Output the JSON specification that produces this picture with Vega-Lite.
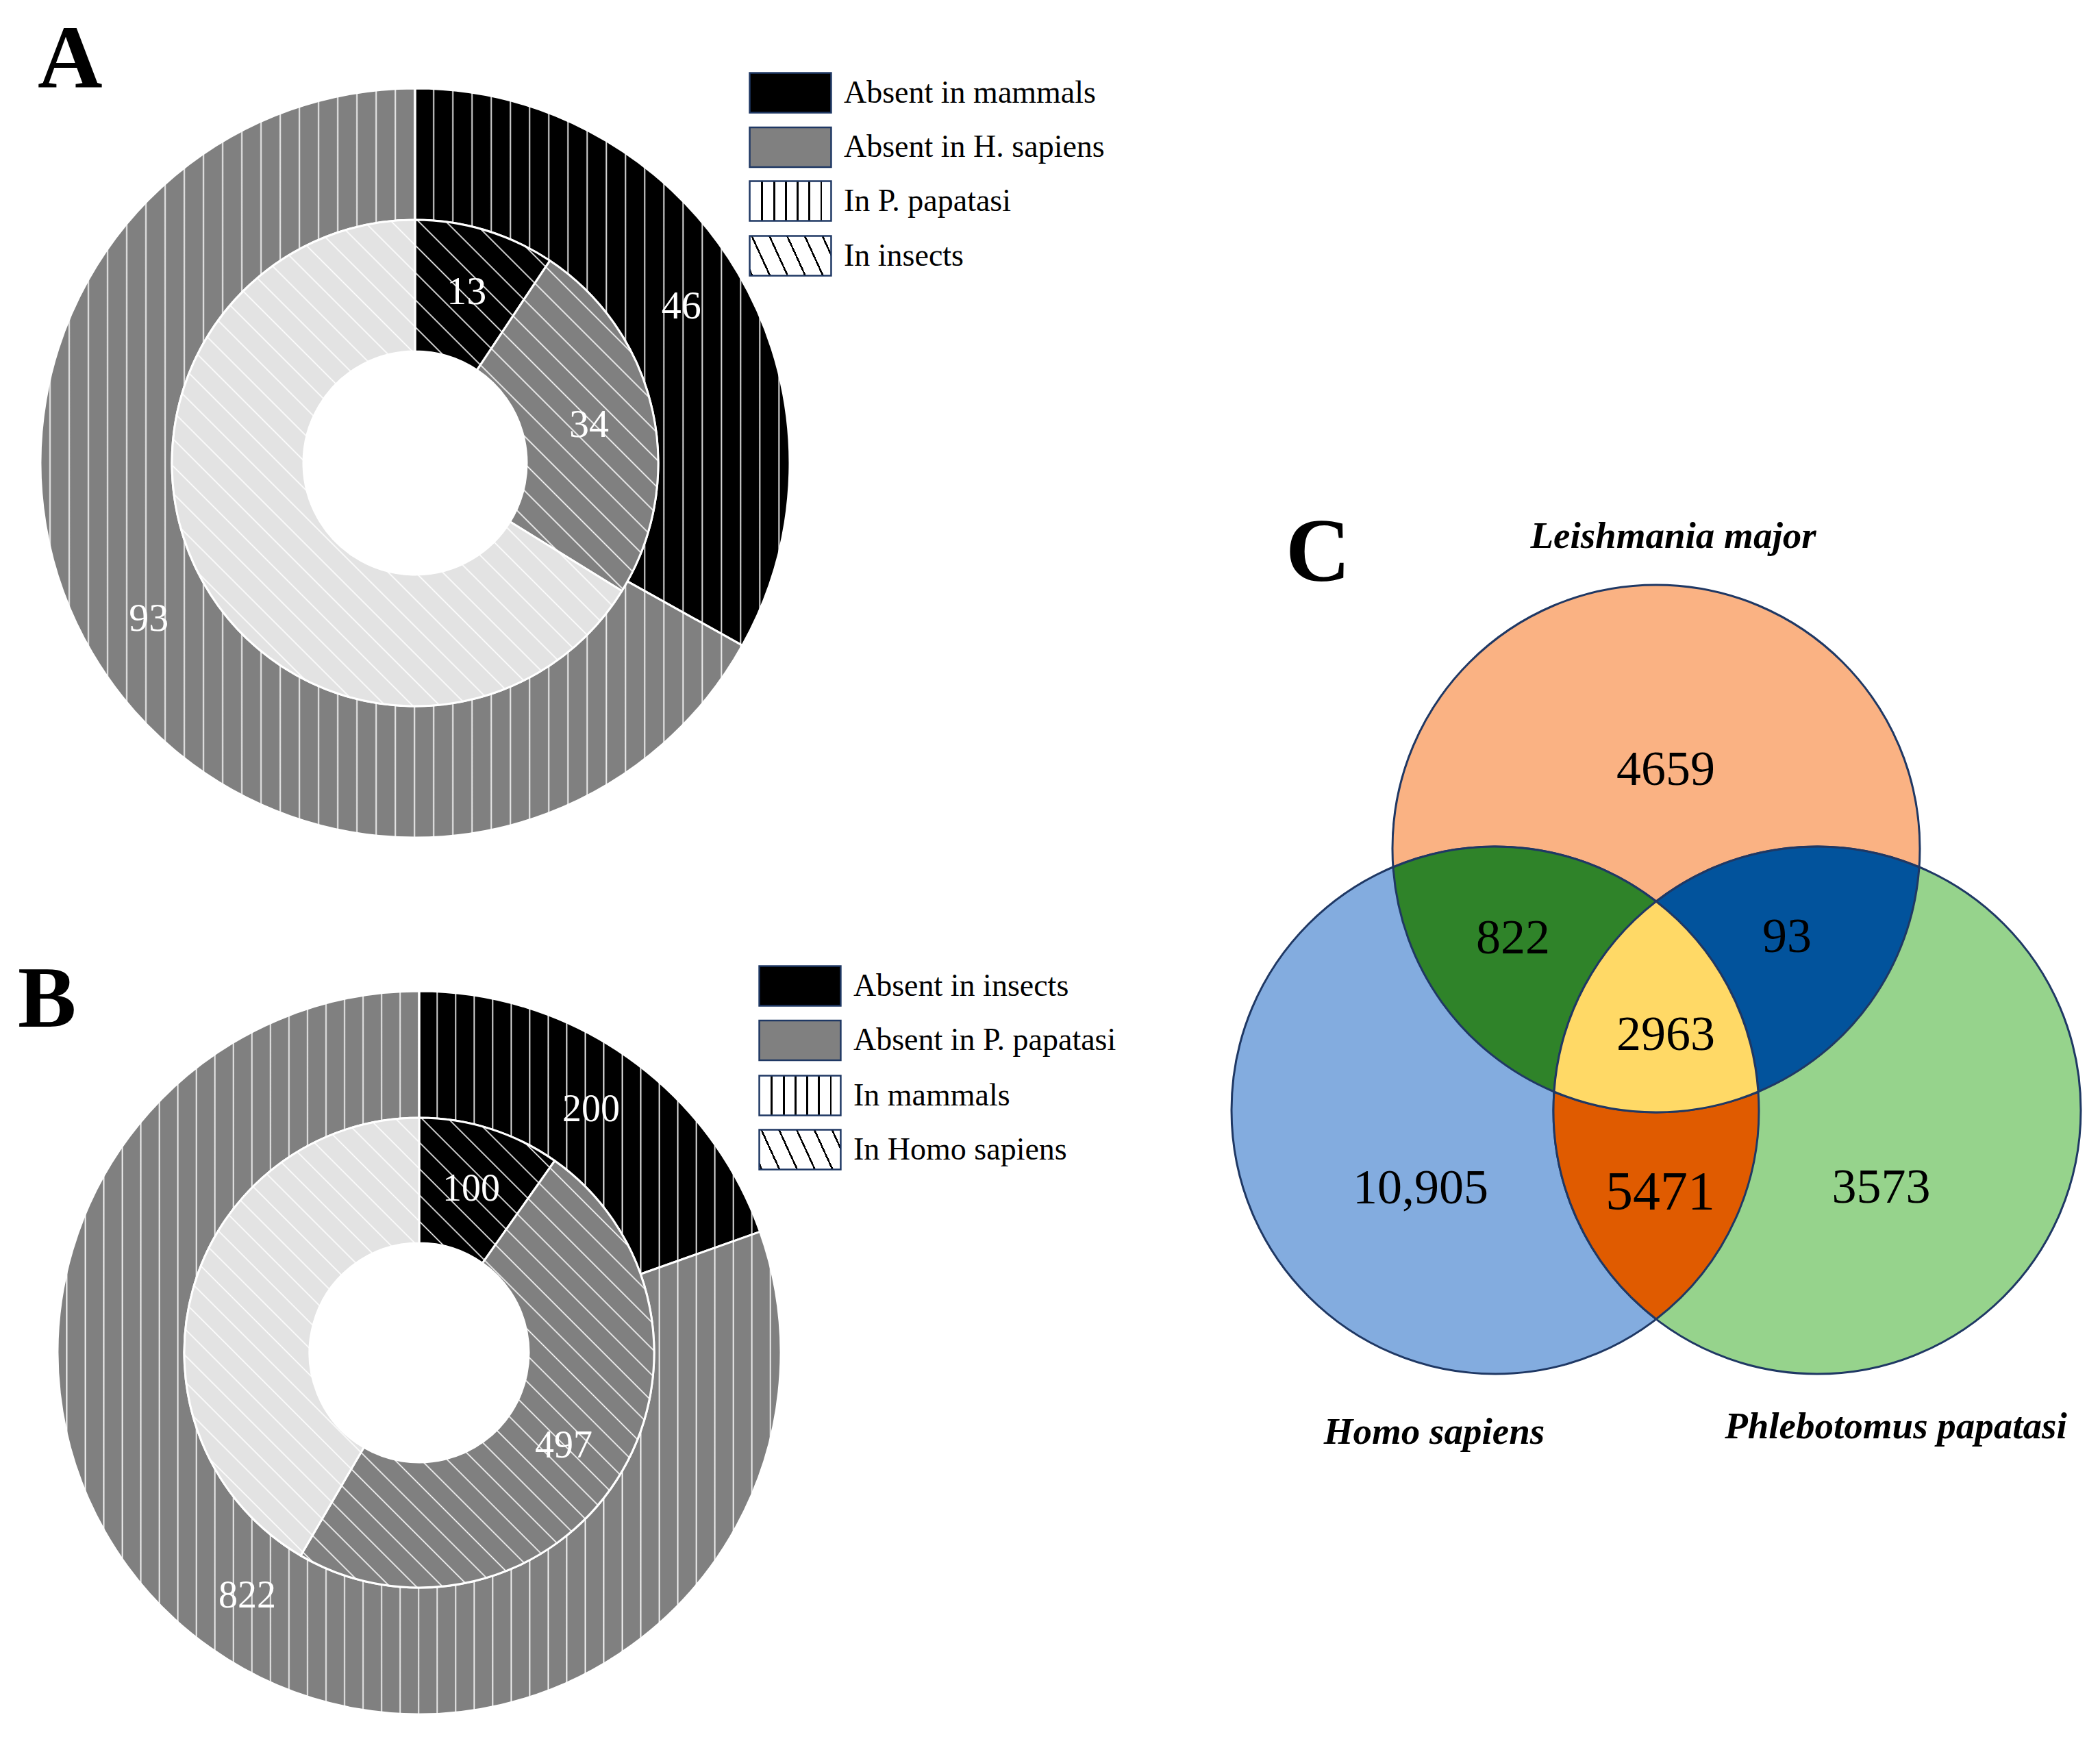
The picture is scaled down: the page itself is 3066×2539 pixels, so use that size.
{
"$schema":"https://vega.github.io/schema/vega-lite/v6.json",
"padding":0,
"background":"#ffffff",
"config":{"view":{"stroke":null},"font":"Liberation Serif",
"legend":{"orient":"none","direction":"vertical","title":null,"symbolType":"M -2.05 -1 L 2.05 -1 L 2.05 1 L -2.05 1 Z","symbolSize":3364,"symbolOpacity":1,"symbolStrokeColor":"#1F3864","symbolStrokeWidth":2.5,"labelFont":"Liberation Serif","labelFontSize":46,"labelColor":"#000000","labelOffset":47.5,"rowPadding":10.5,"labelLimit":1000}},
"datasets":{
"panelA":[
{"ring":"In P. papatasi","status":"Absent in mammals","n":46},
{"ring":"In P. papatasi","status":"Absent in H. sapiens","n":93},
{"ring":"In insects","status":"Absent in mammals","n":13},
{"ring":"In insects","status":"Absent in H. sapiens","n":34},
{"ring":"In insects","status":"Other","n":92}],
"panelB":[
{"ring":"In mammals","status":"Absent in insects","n":200},
{"ring":"In mammals","status":"Absent in P. papatasi","n":822},
{"ring":"In Homo sapiens","status":"Absent in insects","n":100},
{"ring":"In Homo sapiens","status":"Absent in P. papatasi","n":497},
{"ring":"In Homo sapiens","status":"Other","n":425}],
"venn":[
{"region":"L","label":"4659","count":4659,"u":0.6961,"w":1.087},
{"region":"H","label":"10,905","count":10905,"u":-0.2338,"w":2.674},
{"region":"P","label":"3573","count":3573,"u":1.513,"w":2.6714},
{"region":"LH","label":"822","count":822,"u":0.1169,"w":1.726},
{"region":"LP","label":"93","count":93,"u":1.1558,"w":1.7221},
{"region":"HP","label":"5471","count":5471,"u":0.6753,"w":2.6922},
{"region":"LHP","label":"2963","count":2963,"u":0.6961,"w":2.0922}],
"vennSets":[
{"set":"Leishmania major","u":0.7247,"w":0.2455},
{"set":"Homo sapiens","u":-0.1818,"w":3.6429},
{"set":"Phlebotomus papatasi","u":1.5688,"w":3.6221}]
},
"columns":2,
"spacing":{"row":0,"column":39},
"bounds":"flush",
"align":"each",
"resolve":{"scale":{"theta":"independent","fill":"independent","shape":"independent","color":"independent","stroke":"independent"},"legend":{"fill":"independent","shape":"independent","color":"independent","stroke":"independent"}},
"concat":[
{
"width":1212,"height":1352,
"title":{"text":"A","anchor":"start","frame":"group","offset":0,"baseline":"alphabetic","dx":55,"dy":259,"font":"Liberation Serif","fontSize":131,"fontWeight":"bold","color":"#000000"},
"data":{"name":"panelA"},
"transform":[{"window":[{"op":"row_number","as":"i"}]}],
"resolve":{"scale":{"stroke":"independent"},"legend":{"stroke":"independent"}},
"layer":[
{"transform":[{"filter":"datum.ring === 'In P. papatasi'"}],
"mark":{"type":"arc","radius":547,"radius2":355,"stroke":"#ffffff","strokeWidth":3},
"encoding":{"theta":{"field":"n","type":"quantitative","stack":true},"order":{"field":"i","type":"quantitative"},
"fill":{"field":"status","type":"nominal","legend":null,
"scale":{"domain":["Absent in mammals","Absent in H. sapiens","Other"],"range":["#000000","#808080","#e3e3e3"]}}}},
{"transform":[{"filter":"datum.ring === 'In P. papatasi'"}],
"mark":{"type":"arc","radius":547,"radius2":355,
"fill":{"gradient":"linear","x1":0,"y1":0,"x2":1,"y2":0,"stops":[{"offset":0.0112,"color":"rgba(255,255,255,0)"},{"offset":0.0128,"color":"#ffffff"},{"offset":0.0144,"color":"rgba(255,255,255,0)"},{"offset":0.0368,"color":"rgba(255,255,255,0)"},{"offset":0.0384,"color":"#ffffff"},{"offset":0.04,"color":"rgba(255,255,255,0)"},{"offset":0.0624,"color":"rgba(255,255,255,0)"},{"offset":0.064,"color":"#ffffff"},{"offset":0.0656,"color":"rgba(255,255,255,0)"},{"offset":0.088,"color":"rgba(255,255,255,0)"},{"offset":0.0896,"color":"#ffffff"},{"offset":0.0912,"color":"rgba(255,255,255,0)"},{"offset":0.1136,"color":"rgba(255,255,255,0)"},{"offset":0.1152,"color":"#ffffff"},{"offset":0.1168,"color":"rgba(255,255,255,0)"},{"offset":0.1392,"color":"rgba(255,255,255,0)"},{"offset":0.1408,"color":"#ffffff"},{"offset":0.1424,"color":"rgba(255,255,255,0)"},{"offset":0.1648,"color":"rgba(255,255,255,0)"},{"offset":0.1664,"color":"#ffffff"},{"offset":0.168,"color":"rgba(255,255,255,0)"},{"offset":0.1904,"color":"rgba(255,255,255,0)"},{"offset":0.192,"color":"#ffffff"},{"offset":0.1936,"color":"rgba(255,255,255,0)"},{"offset":0.216,"color":"rgba(255,255,255,0)"},{"offset":0.2176,"color":"#ffffff"},{"offset":0.2192,"color":"rgba(255,255,255,0)"},{"offset":0.2416,"color":"rgba(255,255,255,0)"},{"offset":0.2432,"color":"#ffffff"},{"offset":0.2448,"color":"rgba(255,255,255,0)"},{"offset":0.2672,"color":"rgba(255,255,255,0)"},{"offset":0.2688,"color":"#ffffff"},{"offset":0.2704,"color":"rgba(255,255,255,0)"},{"offset":0.2928,"color":"rgba(255,255,255,0)"},{"offset":0.2944,"color":"#ffffff"},{"offset":0.296,"color":"rgba(255,255,255,0)"},{"offset":0.3184,"color":"rgba(255,255,255,0)"},{"offset":0.32,"color":"#ffffff"},{"offset":0.3216,"color":"rgba(255,255,255,0)"},{"offset":0.344,"color":"rgba(255,255,255,0)"},{"offset":0.3456,"color":"#ffffff"},{"offset":0.3472,"color":"rgba(255,255,255,0)"},{"offset":0.3696,"color":"rgba(255,255,255,0)"},{"offset":0.3712,"color":"#ffffff"},{"offset":0.3728,"color":"rgba(255,255,255,0)"},{"offset":0.3952,"color":"rgba(255,255,255,0)"},{"offset":0.3968,"color":"#ffffff"},{"offset":0.3984,"color":"rgba(255,255,255,0)"},{"offset":0.4208,"color":"rgba(255,255,255,0)"},{"offset":0.4224,"color":"#ffffff"},{"offset":0.424,"color":"rgba(255,255,255,0)"},{"offset":0.4464,"color":"rgba(255,255,255,0)"},{"offset":0.448,"color":"#ffffff"},{"offset":0.4496,"color":"rgba(255,255,255,0)"},{"offset":0.472,"color":"rgba(255,255,255,0)"},{"offset":0.4736,"color":"#ffffff"},{"offset":0.4752,"color":"rgba(255,255,255,0)"},{"offset":0.4976,"color":"rgba(255,255,255,0)"},{"offset":0.4992,"color":"#ffffff"},{"offset":0.5008,"color":"rgba(255,255,255,0)"},{"offset":0.5232,"color":"rgba(255,255,255,0)"},{"offset":0.5248,"color":"#ffffff"},{"offset":0.5264,"color":"rgba(255,255,255,0)"},{"offset":0.5488,"color":"rgba(255,255,255,0)"},{"offset":0.5504,"color":"#ffffff"},{"offset":0.552,"color":"rgba(255,255,255,0)"},{"offset":0.5744,"color":"rgba(255,255,255,0)"},{"offset":0.576,"color":"#ffffff"},{"offset":0.5776,"color":"rgba(255,255,255,0)"},{"offset":0.6,"color":"rgba(255,255,255,0)"},{"offset":0.6016,"color":"#ffffff"},{"offset":0.6032,"color":"rgba(255,255,255,0)"},{"offset":0.6256,"color":"rgba(255,255,255,0)"},{"offset":0.6272,"color":"#ffffff"},{"offset":0.6288,"color":"rgba(255,255,255,0)"},{"offset":0.6512,"color":"rgba(255,255,255,0)"},{"offset":0.6528,"color":"#ffffff"},{"offset":0.6544,"color":"rgba(255,255,255,0)"},{"offset":0.6768,"color":"rgba(255,255,255,0)"},{"offset":0.6784,"color":"#ffffff"},{"offset":0.68,"color":"rgba(255,255,255,0)"},{"offset":0.7024,"color":"rgba(255,255,255,0)"},{"offset":0.704,"color":"#ffffff"},{"offset":0.7056,"color":"rgba(255,255,255,0)"},{"offset":0.728,"color":"rgba(255,255,255,0)"},{"offset":0.7296,"color":"#ffffff"},{"offset":0.7312,"color":"rgba(255,255,255,0)"},{"offset":0.7536,"color":"rgba(255,255,255,0)"},{"offset":0.7552,"color":"#ffffff"},{"offset":0.7568,"color":"rgba(255,255,255,0)"},{"offset":0.7792,"color":"rgba(255,255,255,0)"},{"offset":0.7808,"color":"#ffffff"},{"offset":0.7824,"color":"rgba(255,255,255,0)"},{"offset":0.8048,"color":"rgba(255,255,255,0)"},{"offset":0.8064,"color":"#ffffff"},{"offset":0.808,"color":"rgba(255,255,255,0)"},{"offset":0.8304,"color":"rgba(255,255,255,0)"},{"offset":0.832,"color":"#ffffff"},{"offset":0.8336,"color":"rgba(255,255,255,0)"},{"offset":0.856,"color":"rgba(255,255,255,0)"},{"offset":0.8576,"color":"#ffffff"},{"offset":0.8592,"color":"rgba(255,255,255,0)"},{"offset":0.8816,"color":"rgba(255,255,255,0)"},{"offset":0.8832,"color":"#ffffff"},{"offset":0.8848,"color":"rgba(255,255,255,0)"},{"offset":0.9072,"color":"rgba(255,255,255,0)"},{"offset":0.9088,"color":"#ffffff"},{"offset":0.9104,"color":"rgba(255,255,255,0)"},{"offset":0.9328,"color":"rgba(255,255,255,0)"},{"offset":0.9344,"color":"#ffffff"},{"offset":0.936,"color":"rgba(255,255,255,0)"},{"offset":0.9584,"color":"rgba(255,255,255,0)"},{"offset":0.96,"color":"#ffffff"},{"offset":0.9616,"color":"rgba(255,255,255,0)"},{"offset":0.984,"color":"rgba(255,255,255,0)"},{"offset":0.9856,"color":"#ffffff"},{"offset":0.9872,"color":"rgba(255,255,255,0)"}]}},
"encoding":{"theta":{"aggregate":"sum","field":"n","type":"quantitative","stack":true}}},
{"transform":[{"filter":"datum.ring === 'In insects'"}],
"mark":{"type":"arc","radius":355,"radius2":163,"stroke":"#ffffff","strokeWidth":3},
"encoding":{"theta":{"field":"n","type":"quantitative","stack":true},"order":{"field":"i","type":"quantitative"},
"fill":{"field":"status","type":"nominal","legend":null,
"scale":{"domain":["Absent in mammals","Absent in H. sapiens","Other"],"range":["#000000","#808080","#e3e3e3"]}}}},
{"transform":[{"filter":"datum.ring === 'In insects'"}],
"mark":{"type":"arc","radius":355,"radius2":163,
"fill":{"gradient":"linear","x1":0,"y1":1,"x2":1,"y2":0,"stops":[{"offset":0.1344,"color":"rgba(255,255,255,0)"},{"offset":0.136,"color":"#ffffff"},{"offset":0.1376,"color":"rgba(255,255,255,0)"},{"offset":0.1624,"color":"rgba(255,255,255,0)"},{"offset":0.164,"color":"#ffffff"},{"offset":0.1656,"color":"rgba(255,255,255,0)"},{"offset":0.1904,"color":"rgba(255,255,255,0)"},{"offset":0.192,"color":"#ffffff"},{"offset":0.1936,"color":"rgba(255,255,255,0)"},{"offset":0.2184,"color":"rgba(255,255,255,0)"},{"offset":0.22,"color":"#ffffff"},{"offset":0.2216,"color":"rgba(255,255,255,0)"},{"offset":0.2464,"color":"rgba(255,255,255,0)"},{"offset":0.248,"color":"#ffffff"},{"offset":0.2496,"color":"rgba(255,255,255,0)"},{"offset":0.2744,"color":"rgba(255,255,255,0)"},{"offset":0.276,"color":"#ffffff"},{"offset":0.2776,"color":"rgba(255,255,255,0)"},{"offset":0.3024,"color":"rgba(255,255,255,0)"},{"offset":0.304,"color":"#ffffff"},{"offset":0.3056,"color":"rgba(255,255,255,0)"},{"offset":0.3304,"color":"rgba(255,255,255,0)"},{"offset":0.332,"color":"#ffffff"},{"offset":0.3336,"color":"rgba(255,255,255,0)"},{"offset":0.3584,"color":"rgba(255,255,255,0)"},{"offset":0.36,"color":"#ffffff"},{"offset":0.3616,"color":"rgba(255,255,255,0)"},{"offset":0.3864,"color":"rgba(255,255,255,0)"},{"offset":0.388,"color":"#ffffff"},{"offset":0.3896,"color":"rgba(255,255,255,0)"},{"offset":0.4144,"color":"rgba(255,255,255,0)"},{"offset":0.416,"color":"#ffffff"},{"offset":0.4176,"color":"rgba(255,255,255,0)"},{"offset":0.4424,"color":"rgba(255,255,255,0)"},{"offset":0.444,"color":"#ffffff"},{"offset":0.4456,"color":"rgba(255,255,255,0)"},{"offset":0.4704,"color":"rgba(255,255,255,0)"},{"offset":0.472,"color":"#ffffff"},{"offset":0.4736,"color":"rgba(255,255,255,0)"},{"offset":0.4984,"color":"rgba(255,255,255,0)"},{"offset":0.5,"color":"#ffffff"},{"offset":0.5016,"color":"rgba(255,255,255,0)"},{"offset":0.5264,"color":"rgba(255,255,255,0)"},{"offset":0.528,"color":"#ffffff"},{"offset":0.5296,"color":"rgba(255,255,255,0)"},{"offset":0.5544,"color":"rgba(255,255,255,0)"},{"offset":0.556,"color":"#ffffff"},{"offset":0.5576,"color":"rgba(255,255,255,0)"},{"offset":0.5824,"color":"rgba(255,255,255,0)"},{"offset":0.584,"color":"#ffffff"},{"offset":0.5856,"color":"rgba(255,255,255,0)"},{"offset":0.6104,"color":"rgba(255,255,255,0)"},{"offset":0.612,"color":"#ffffff"},{"offset":0.6136,"color":"rgba(255,255,255,0)"},{"offset":0.6384,"color":"rgba(255,255,255,0)"},{"offset":0.64,"color":"#ffffff"},{"offset":0.6416,"color":"rgba(255,255,255,0)"},{"offset":0.6664,"color":"rgba(255,255,255,0)"},{"offset":0.668,"color":"#ffffff"},{"offset":0.6696,"color":"rgba(255,255,255,0)"},{"offset":0.6944,"color":"rgba(255,255,255,0)"},{"offset":0.696,"color":"#ffffff"},{"offset":0.6976,"color":"rgba(255,255,255,0)"},{"offset":0.7224,"color":"rgba(255,255,255,0)"},{"offset":0.724,"color":"#ffffff"},{"offset":0.7256,"color":"rgba(255,255,255,0)"},{"offset":0.7504,"color":"rgba(255,255,255,0)"},{"offset":0.752,"color":"#ffffff"},{"offset":0.7536,"color":"rgba(255,255,255,0)"},{"offset":0.7784,"color":"rgba(255,255,255,0)"},{"offset":0.78,"color":"#ffffff"},{"offset":0.7816,"color":"rgba(255,255,255,0)"},{"offset":0.8064,"color":"rgba(255,255,255,0)"},{"offset":0.808,"color":"#ffffff"},{"offset":0.8096,"color":"rgba(255,255,255,0)"},{"offset":0.8344,"color":"rgba(255,255,255,0)"},{"offset":0.836,"color":"#ffffff"},{"offset":0.8376,"color":"rgba(255,255,255,0)"},{"offset":0.8624,"color":"rgba(255,255,255,0)"},{"offset":0.864,"color":"#ffffff"},{"offset":0.8656,"color":"rgba(255,255,255,0)"}]}},
"encoding":{"theta":{"aggregate":"sum","field":"n","type":"quantitative","stack":true}}},
{"transform":[{"filter":"datum.ring === 'In P. papatasi'"}],
"mark":{"type":"text","radius":451,"font":"Liberation Serif","fontSize":58,"fill":"#ffffff","align":"center","baseline":"middle"},
"encoding":{"theta":{"field":"n","type":"quantitative","stack":true},"order":{"field":"i","type":"quantitative"},
"text":{"field":"n","type":"quantitative","condition":{"test":"datum.status === 'Other'","value":""}}}},
{"transform":[{"filter":"datum.ring === 'In insects'"}],
"mark":{"type":"text","radius":260,"font":"Liberation Serif","fontSize":58,"fill":"#ffffff","align":"center","baseline":"middle"},
"encoding":{"theta":{"field":"n","type":"quantitative","stack":true},"order":{"field":"i","type":"quantitative"},
"text":{"field":"n","type":"quantitative","condition":{"test":"datum.status === 'Other'","value":""}}}},
{"transform":[{"filter":"datum.n < 0"}],
"mark":{"type":"point","filled":true,"stroke":"#1F3864","strokeWidth":2.5},
"encoding":{"color":{"field":"status","type":"nominal","scale":{"domain":["Absent in mammals","Absent in H. sapiens"],"range":["#000000","#808080"]},
"legend":{"legendX":1123.5,"legendY":105}}}},
{"transform":[{"filter":"datum.n < 0"}],
"mark":{"type":"point","filled":true,"strokeWidth":2.5,
"fill":{"gradient":"linear","x1":0,"y1":0,"x2":1,"y2":0,"stops":[{"offset":0,"color":"#ffffff"},{"offset":0.142,"color":"#ffffff"},{"offset":0.142,"color":"#000000"},{"offset":0.166,"color":"#000000"},{"offset":0.166,"color":"#ffffff"},{"offset":0.287,"color":"#ffffff"},{"offset":0.287,"color":"#000000"},{"offset":0.311,"color":"#000000"},{"offset":0.311,"color":"#ffffff"},{"offset":0.432,"color":"#ffffff"},{"offset":0.432,"color":"#000000"},{"offset":0.456,"color":"#000000"},{"offset":0.456,"color":"#ffffff"},{"offset":0.576,"color":"#ffffff"},{"offset":0.576,"color":"#000000"},{"offset":0.6,"color":"#000000"},{"offset":0.6,"color":"#ffffff"},{"offset":0.721,"color":"#ffffff"},{"offset":0.721,"color":"#000000"},{"offset":0.745,"color":"#000000"},{"offset":0.745,"color":"#ffffff"},{"offset":0.866,"color":"#ffffff"},{"offset":0.866,"color":"#000000"},{"offset":0.89,"color":"#000000"},{"offset":0.89,"color":"#ffffff"},{"offset":1,"color":"#ffffff"}]}},
"encoding":{"stroke":{"field":"ring","type":"nominal","scale":{"domain":["In P. papatasi"],"range":["#1F3864"]},
"legend":{"legendX":1123.5,"legendY":263}}}},
{"transform":[{"filter":"datum.n < 0"}],
"mark":{"type":"point","filled":true,"strokeWidth":2.5,
"fill":{"gradient":"linear","x1":-0.2,"y1":0.6568,"x2":1.2,"y2":0.3432,"stops":[{"offset":0,"color":"#ffffff"},{"offset":0.0975,"color":"#ffffff"},{"offset":0.0975,"color":"#000000"},{"offset":0.1135,"color":"#000000"},{"offset":0.1135,"color":"#ffffff"},{"offset":0.2451,"color":"#ffffff"},{"offset":0.2451,"color":"#000000"},{"offset":0.2611,"color":"#000000"},{"offset":0.2611,"color":"#ffffff"},{"offset":0.3927,"color":"#ffffff"},{"offset":0.3927,"color":"#000000"},{"offset":0.4087,"color":"#000000"},{"offset":0.4087,"color":"#ffffff"},{"offset":0.5403,"color":"#ffffff"},{"offset":0.5403,"color":"#000000"},{"offset":0.5563,"color":"#000000"},{"offset":0.5563,"color":"#ffffff"},{"offset":0.6879,"color":"#ffffff"},{"offset":0.6879,"color":"#000000"},{"offset":0.7039,"color":"#000000"},{"offset":0.7039,"color":"#ffffff"},{"offset":0.8355,"color":"#ffffff"},{"offset":0.8355,"color":"#000000"},{"offset":0.8515,"color":"#000000"},{"offset":0.8515,"color":"#ffffff"},{"offset":1,"color":"#ffffff"}]}},
"encoding":{"stroke":{"field":"ring","type":"nominal","scale":{"domain":["In insects"],"range":["#1F3864"]},
"legend":{"legendX":1123.5,"legendY":343}}}}
]
},
{
"width":1802,"height":1411,
"title":{"text":"C","anchor":"start","frame":"group","offset":0,"baseline":"alphabetic","dx":614,"dy":979,"font":"Liberation Serif","fontSize":131,"fontWeight":"bold","color":"#000000"},
"layer":[
{"data":{"name":"venn"},
"mark":{"type":"point","filled":true,"size":592900,"opacity":1,"stroke":"#1F3864","strokeWidth":3},
"encoding":{
"shape":{"field":"region","type":"nominal","legend":null,"scale":{"domain":["L","H","P","LH","LP","HP","LHP"],
"range":["M -0.3403 1.3857 A 1 1 0 1 1 1.6597 1.3857 A 1 1 0 1 1 -0.3403 1.3857 Z",
"M -0.9506 2.3779 A 1 1 0 1 1 1.0494 2.3779 A 1 1 0 1 1 -0.9506 2.3779 Z",
"M 0.2701 2.3779 A 1 1 0 1 1 2.2701 2.3779 A 1 1 0 1 1 0.2701 2.3779 Z",
"M -0.3378 1.456 A 1 1 0 0 1 0.6597 1.5859 A 1 1 0 0 0 0.2726 2.3078 A 1 1 0 0 1 -0.3378 1.456 Z",
"M 1.6572 1.456 A 1 1 0 0 0 0.6597 1.5859 A 1 1 0 0 1 1.0468 2.3078 A 1 1 0 0 0 1.6572 1.456 Z",
"M 0.2726 2.3078 A 1 1 0 0 0 0.6597 3.1701 A 1 1 0 0 0 1.0468 2.3078 A 1 1 0 0 1 0.2726 2.3078 Z",
"M 0.6597 1.5859 A 1 1 0 0 1 1.0468 2.3078 A 1 1 0 0 1 0.2726 2.3078 A 1 1 0 0 1 0.6597 1.5859 Z"]}},
"fill":{"field":"region","type":"nominal","legend":null,"scale":{"domain":["L","H","P","LH","LP","HP","LHP"],
"range":["#FAB283","#83ACDF","#96D38C","#2F8329","#02539C","#E05B00","#FFD966"]}}}},
{"data":{"name":"venn"},
"mark":{"type":"text","font":"Liberation Serif","baseline":"middle","align":"center","fill":"#000000"},
"encoding":{
"x":{"field":"u","type":"quantitative","axis":null,"scale":{"domain":[-2.3403,2.3403],"nice":false,"zero":false}},
"y":{"field":"w","type":"quantitative","axis":null,"scale":{"domain":[-1.8325,1.8325],"nice":false,"zero":false,"reverse":true}},
"text":{"field":"label","type":"nominal"},
"size":{"condition":{"test":"datum.count === 5471","value":80},"value":72}}},
{"data":{"name":"vennSets"},
"mark":{"type":"text","font":"Liberation Serif","fontSize":55,"fontWeight":"bold","fontStyle":"italic","baseline":"alphabetic","align":"center","fill":"#000000"},
"encoding":{
"x":{"field":"u","type":"quantitative","axis":null,"scale":{"domain":[-2.3403,2.3403],"nice":false,"zero":false}},
"y":{"field":"w","type":"quantitative","axis":null,"scale":{"domain":[-1.8325,1.8325],"nice":false,"zero":false,"reverse":true}},
"text":{"field":"set","type":"nominal"}}}
]
},
{
"width":1224,"height":1128,
"title":{"text":"B","anchor":"start","frame":"group","offset":0,"baseline":"alphabetic","dx":26,"dy":218,"font":"Liberation Serif","fontSize":128,"fontWeight":"bold","color":"#000000"},
"data":{"name":"panelB"},
"transform":[{"window":[{"op":"row_number","as":"i"}]}],
"resolve":{"scale":{"stroke":"independent"},"legend":{"stroke":"independent"}},
"layer":[
{"transform":[{"filter":"datum.ring === 'In mammals'"}],
"mark":{"type":"arc","radius":528,"radius2":343,"stroke":"#ffffff","strokeWidth":3},
"encoding":{"theta":{"field":"n","type":"quantitative","stack":true},"order":{"field":"i","type":"quantitative"},
"fill":{"field":"status","type":"nominal","legend":null,
"scale":{"domain":["Absent in insects","Absent in P. papatasi","Other"],"range":["#000000","#808080","#e3e3e3"]}}}},
{"transform":[{"filter":"datum.ring === 'In mammals'"}],
"mark":{"type":"arc","radius":528,"radius2":343,
"fill":{"gradient":"linear","x1":0,"y1":0,"x2":1,"y2":0,"stops":[{"offset":0.0112,"color":"rgba(255,255,255,0)"},{"offset":0.0128,"color":"#ffffff"},{"offset":0.0144,"color":"rgba(255,255,255,0)"},{"offset":0.0368,"color":"rgba(255,255,255,0)"},{"offset":0.0384,"color":"#ffffff"},{"offset":0.04,"color":"rgba(255,255,255,0)"},{"offset":0.0624,"color":"rgba(255,255,255,0)"},{"offset":0.064,"color":"#ffffff"},{"offset":0.0656,"color":"rgba(255,255,255,0)"},{"offset":0.088,"color":"rgba(255,255,255,0)"},{"offset":0.0896,"color":"#ffffff"},{"offset":0.0912,"color":"rgba(255,255,255,0)"},{"offset":0.1136,"color":"rgba(255,255,255,0)"},{"offset":0.1152,"color":"#ffffff"},{"offset":0.1168,"color":"rgba(255,255,255,0)"},{"offset":0.1392,"color":"rgba(255,255,255,0)"},{"offset":0.1408,"color":"#ffffff"},{"offset":0.1424,"color":"rgba(255,255,255,0)"},{"offset":0.1648,"color":"rgba(255,255,255,0)"},{"offset":0.1664,"color":"#ffffff"},{"offset":0.168,"color":"rgba(255,255,255,0)"},{"offset":0.1904,"color":"rgba(255,255,255,0)"},{"offset":0.192,"color":"#ffffff"},{"offset":0.1936,"color":"rgba(255,255,255,0)"},{"offset":0.216,"color":"rgba(255,255,255,0)"},{"offset":0.2176,"color":"#ffffff"},{"offset":0.2192,"color":"rgba(255,255,255,0)"},{"offset":0.2416,"color":"rgba(255,255,255,0)"},{"offset":0.2432,"color":"#ffffff"},{"offset":0.2448,"color":"rgba(255,255,255,0)"},{"offset":0.2672,"color":"rgba(255,255,255,0)"},{"offset":0.2688,"color":"#ffffff"},{"offset":0.2704,"color":"rgba(255,255,255,0)"},{"offset":0.2928,"color":"rgba(255,255,255,0)"},{"offset":0.2944,"color":"#ffffff"},{"offset":0.296,"color":"rgba(255,255,255,0)"},{"offset":0.3184,"color":"rgba(255,255,255,0)"},{"offset":0.32,"color":"#ffffff"},{"offset":0.3216,"color":"rgba(255,255,255,0)"},{"offset":0.344,"color":"rgba(255,255,255,0)"},{"offset":0.3456,"color":"#ffffff"},{"offset":0.3472,"color":"rgba(255,255,255,0)"},{"offset":0.3696,"color":"rgba(255,255,255,0)"},{"offset":0.3712,"color":"#ffffff"},{"offset":0.3728,"color":"rgba(255,255,255,0)"},{"offset":0.3952,"color":"rgba(255,255,255,0)"},{"offset":0.3968,"color":"#ffffff"},{"offset":0.3984,"color":"rgba(255,255,255,0)"},{"offset":0.4208,"color":"rgba(255,255,255,0)"},{"offset":0.4224,"color":"#ffffff"},{"offset":0.424,"color":"rgba(255,255,255,0)"},{"offset":0.4464,"color":"rgba(255,255,255,0)"},{"offset":0.448,"color":"#ffffff"},{"offset":0.4496,"color":"rgba(255,255,255,0)"},{"offset":0.472,"color":"rgba(255,255,255,0)"},{"offset":0.4736,"color":"#ffffff"},{"offset":0.4752,"color":"rgba(255,255,255,0)"},{"offset":0.4976,"color":"rgba(255,255,255,0)"},{"offset":0.4992,"color":"#ffffff"},{"offset":0.5008,"color":"rgba(255,255,255,0)"},{"offset":0.5232,"color":"rgba(255,255,255,0)"},{"offset":0.5248,"color":"#ffffff"},{"offset":0.5264,"color":"rgba(255,255,255,0)"},{"offset":0.5488,"color":"rgba(255,255,255,0)"},{"offset":0.5504,"color":"#ffffff"},{"offset":0.552,"color":"rgba(255,255,255,0)"},{"offset":0.5744,"color":"rgba(255,255,255,0)"},{"offset":0.576,"color":"#ffffff"},{"offset":0.5776,"color":"rgba(255,255,255,0)"},{"offset":0.6,"color":"rgba(255,255,255,0)"},{"offset":0.6016,"color":"#ffffff"},{"offset":0.6032,"color":"rgba(255,255,255,0)"},{"offset":0.6256,"color":"rgba(255,255,255,0)"},{"offset":0.6272,"color":"#ffffff"},{"offset":0.6288,"color":"rgba(255,255,255,0)"},{"offset":0.6512,"color":"rgba(255,255,255,0)"},{"offset":0.6528,"color":"#ffffff"},{"offset":0.6544,"color":"rgba(255,255,255,0)"},{"offset":0.6768,"color":"rgba(255,255,255,0)"},{"offset":0.6784,"color":"#ffffff"},{"offset":0.68,"color":"rgba(255,255,255,0)"},{"offset":0.7024,"color":"rgba(255,255,255,0)"},{"offset":0.704,"color":"#ffffff"},{"offset":0.7056,"color":"rgba(255,255,255,0)"},{"offset":0.728,"color":"rgba(255,255,255,0)"},{"offset":0.7296,"color":"#ffffff"},{"offset":0.7312,"color":"rgba(255,255,255,0)"},{"offset":0.7536,"color":"rgba(255,255,255,0)"},{"offset":0.7552,"color":"#ffffff"},{"offset":0.7568,"color":"rgba(255,255,255,0)"},{"offset":0.7792,"color":"rgba(255,255,255,0)"},{"offset":0.7808,"color":"#ffffff"},{"offset":0.7824,"color":"rgba(255,255,255,0)"},{"offset":0.8048,"color":"rgba(255,255,255,0)"},{"offset":0.8064,"color":"#ffffff"},{"offset":0.808,"color":"rgba(255,255,255,0)"},{"offset":0.8304,"color":"rgba(255,255,255,0)"},{"offset":0.832,"color":"#ffffff"},{"offset":0.8336,"color":"rgba(255,255,255,0)"},{"offset":0.856,"color":"rgba(255,255,255,0)"},{"offset":0.8576,"color":"#ffffff"},{"offset":0.8592,"color":"rgba(255,255,255,0)"},{"offset":0.8816,"color":"rgba(255,255,255,0)"},{"offset":0.8832,"color":"#ffffff"},{"offset":0.8848,"color":"rgba(255,255,255,0)"},{"offset":0.9072,"color":"rgba(255,255,255,0)"},{"offset":0.9088,"color":"#ffffff"},{"offset":0.9104,"color":"rgba(255,255,255,0)"},{"offset":0.9328,"color":"rgba(255,255,255,0)"},{"offset":0.9344,"color":"#ffffff"},{"offset":0.936,"color":"rgba(255,255,255,0)"},{"offset":0.9584,"color":"rgba(255,255,255,0)"},{"offset":0.96,"color":"#ffffff"},{"offset":0.9616,"color":"rgba(255,255,255,0)"},{"offset":0.984,"color":"rgba(255,255,255,0)"},{"offset":0.9856,"color":"#ffffff"},{"offset":0.9872,"color":"rgba(255,255,255,0)"}]}},
"encoding":{"theta":{"aggregate":"sum","field":"n","type":"quantitative","stack":true}}},
{"transform":[{"filter":"datum.ring === 'In Homo sapiens'"}],
"mark":{"type":"arc","radius":343,"radius2":160,"stroke":"#ffffff","strokeWidth":3},
"encoding":{"theta":{"field":"n","type":"quantitative","stack":true},"order":{"field":"i","type":"quantitative"},
"fill":{"field":"status","type":"nominal","legend":null,
"scale":{"domain":["Absent in insects","Absent in P. papatasi","Other"],"range":["#000000","#808080","#e3e3e3"]}}}},
{"transform":[{"filter":"datum.ring === 'In Homo sapiens'"}],
"mark":{"type":"arc","radius":343,"radius2":160,
"fill":{"gradient":"linear","x1":0,"y1":1,"x2":1,"y2":0,"stops":[{"offset":0.1344,"color":"rgba(255,255,255,0)"},{"offset":0.136,"color":"#ffffff"},{"offset":0.1376,"color":"rgba(255,255,255,0)"},{"offset":0.1624,"color":"rgba(255,255,255,0)"},{"offset":0.164,"color":"#ffffff"},{"offset":0.1656,"color":"rgba(255,255,255,0)"},{"offset":0.1904,"color":"rgba(255,255,255,0)"},{"offset":0.192,"color":"#ffffff"},{"offset":0.1936,"color":"rgba(255,255,255,0)"},{"offset":0.2184,"color":"rgba(255,255,255,0)"},{"offset":0.22,"color":"#ffffff"},{"offset":0.2216,"color":"rgba(255,255,255,0)"},{"offset":0.2464,"color":"rgba(255,255,255,0)"},{"offset":0.248,"color":"#ffffff"},{"offset":0.2496,"color":"rgba(255,255,255,0)"},{"offset":0.2744,"color":"rgba(255,255,255,0)"},{"offset":0.276,"color":"#ffffff"},{"offset":0.2776,"color":"rgba(255,255,255,0)"},{"offset":0.3024,"color":"rgba(255,255,255,0)"},{"offset":0.304,"color":"#ffffff"},{"offset":0.3056,"color":"rgba(255,255,255,0)"},{"offset":0.3304,"color":"rgba(255,255,255,0)"},{"offset":0.332,"color":"#ffffff"},{"offset":0.3336,"color":"rgba(255,255,255,0)"},{"offset":0.3584,"color":"rgba(255,255,255,0)"},{"offset":0.36,"color":"#ffffff"},{"offset":0.3616,"color":"rgba(255,255,255,0)"},{"offset":0.3864,"color":"rgba(255,255,255,0)"},{"offset":0.388,"color":"#ffffff"},{"offset":0.3896,"color":"rgba(255,255,255,0)"},{"offset":0.4144,"color":"rgba(255,255,255,0)"},{"offset":0.416,"color":"#ffffff"},{"offset":0.4176,"color":"rgba(255,255,255,0)"},{"offset":0.4424,"color":"rgba(255,255,255,0)"},{"offset":0.444,"color":"#ffffff"},{"offset":0.4456,"color":"rgba(255,255,255,0)"},{"offset":0.4704,"color":"rgba(255,255,255,0)"},{"offset":0.472,"color":"#ffffff"},{"offset":0.4736,"color":"rgba(255,255,255,0)"},{"offset":0.4984,"color":"rgba(255,255,255,0)"},{"offset":0.5,"color":"#ffffff"},{"offset":0.5016,"color":"rgba(255,255,255,0)"},{"offset":0.5264,"color":"rgba(255,255,255,0)"},{"offset":0.528,"color":"#ffffff"},{"offset":0.5296,"color":"rgba(255,255,255,0)"},{"offset":0.5544,"color":"rgba(255,255,255,0)"},{"offset":0.556,"color":"#ffffff"},{"offset":0.5576,"color":"rgba(255,255,255,0)"},{"offset":0.5824,"color":"rgba(255,255,255,0)"},{"offset":0.584,"color":"#ffffff"},{"offset":0.5856,"color":"rgba(255,255,255,0)"},{"offset":0.6104,"color":"rgba(255,255,255,0)"},{"offset":0.612,"color":"#ffffff"},{"offset":0.6136,"color":"rgba(255,255,255,0)"},{"offset":0.6384,"color":"rgba(255,255,255,0)"},{"offset":0.64,"color":"#ffffff"},{"offset":0.6416,"color":"rgba(255,255,255,0)"},{"offset":0.6664,"color":"rgba(255,255,255,0)"},{"offset":0.668,"color":"#ffffff"},{"offset":0.6696,"color":"rgba(255,255,255,0)"},{"offset":0.6944,"color":"rgba(255,255,255,0)"},{"offset":0.696,"color":"#ffffff"},{"offset":0.6976,"color":"rgba(255,255,255,0)"},{"offset":0.7224,"color":"rgba(255,255,255,0)"},{"offset":0.724,"color":"#ffffff"},{"offset":0.7256,"color":"rgba(255,255,255,0)"},{"offset":0.7504,"color":"rgba(255,255,255,0)"},{"offset":0.752,"color":"#ffffff"},{"offset":0.7536,"color":"rgba(255,255,255,0)"},{"offset":0.7784,"color":"rgba(255,255,255,0)"},{"offset":0.78,"color":"#ffffff"},{"offset":0.7816,"color":"rgba(255,255,255,0)"},{"offset":0.8064,"color":"rgba(255,255,255,0)"},{"offset":0.808,"color":"#ffffff"},{"offset":0.8096,"color":"rgba(255,255,255,0)"},{"offset":0.8344,"color":"rgba(255,255,255,0)"},{"offset":0.836,"color":"#ffffff"},{"offset":0.8376,"color":"rgba(255,255,255,0)"},{"offset":0.8624,"color":"rgba(255,255,255,0)"},{"offset":0.864,"color":"#ffffff"},{"offset":0.8656,"color":"rgba(255,255,255,0)"}]}},
"encoding":{"theta":{"aggregate":"sum","field":"n","type":"quantitative","stack":true}}},
{"transform":[{"filter":"datum.ring === 'In mammals'"}],
"mark":{"type":"text","radius":435,"font":"Liberation Serif","fontSize":56,"fill":"#ffffff","align":"center","baseline":"middle"},
"encoding":{"theta":{"field":"n","type":"quantitative","stack":true},"order":{"field":"i","type":"quantitative"},
"text":{"field":"n","type":"quantitative","condition":{"test":"datum.status === 'Other'","value":""}}}},
{"transform":[{"filter":"datum.ring === 'In Homo sapiens'"}],
"mark":{"type":"text","radius":251,"font":"Liberation Serif","fontSize":56,"fill":"#ffffff","align":"center","baseline":"middle"},
"encoding":{"theta":{"field":"n","type":"quantitative","stack":true},"order":{"field":"i","type":"quantitative"},
"text":{"field":"n","type":"quantitative","condition":{"test":"datum.status === 'Other'","value":""}}}},
{"transform":[{"filter":"datum.n < 0"}],
"mark":{"type":"point","filled":true,"stroke":"#1F3864","strokeWidth":2.5},
"encoding":{"color":{"field":"status","type":"nominal","scale":{"domain":["Absent in insects","Absent in P. papatasi"],"range":["#000000","#808080"]},
"legend":{"legendX":1137.5,"legendY":-2}}}},
{"transform":[{"filter":"datum.n < 0"}],
"mark":{"type":"point","filled":true,"strokeWidth":2.5,
"fill":{"gradient":"linear","x1":0,"y1":0,"x2":1,"y2":0,"stops":[{"offset":0,"color":"#ffffff"},{"offset":0.142,"color":"#ffffff"},{"offset":0.142,"color":"#000000"},{"offset":0.166,"color":"#000000"},{"offset":0.166,"color":"#ffffff"},{"offset":0.287,"color":"#ffffff"},{"offset":0.287,"color":"#000000"},{"offset":0.311,"color":"#000000"},{"offset":0.311,"color":"#ffffff"},{"offset":0.432,"color":"#ffffff"},{"offset":0.432,"color":"#000000"},{"offset":0.456,"color":"#000000"},{"offset":0.456,"color":"#ffffff"},{"offset":0.576,"color":"#ffffff"},{"offset":0.576,"color":"#000000"},{"offset":0.6,"color":"#000000"},{"offset":0.6,"color":"#ffffff"},{"offset":0.721,"color":"#ffffff"},{"offset":0.721,"color":"#000000"},{"offset":0.745,"color":"#000000"},{"offset":0.745,"color":"#ffffff"},{"offset":0.866,"color":"#ffffff"},{"offset":0.866,"color":"#000000"},{"offset":0.89,"color":"#000000"},{"offset":0.89,"color":"#ffffff"},{"offset":1,"color":"#ffffff"}]}},
"encoding":{"stroke":{"field":"ring","type":"nominal","scale":{"domain":["In mammals"],"range":["#1F3864"]},
"legend":{"legendX":1137.5,"legendY":158}}}},
{"transform":[{"filter":"datum.n < 0"}],
"mark":{"type":"point","filled":true,"strokeWidth":2.5,
"fill":{"gradient":"linear","x1":-0.2,"y1":0.6568,"x2":1.2,"y2":0.3432,"stops":[{"offset":0,"color":"#ffffff"},{"offset":0.0975,"color":"#ffffff"},{"offset":0.0975,"color":"#000000"},{"offset":0.1135,"color":"#000000"},{"offset":0.1135,"color":"#ffffff"},{"offset":0.2451,"color":"#ffffff"},{"offset":0.2451,"color":"#000000"},{"offset":0.2611,"color":"#000000"},{"offset":0.2611,"color":"#ffffff"},{"offset":0.3927,"color":"#ffffff"},{"offset":0.3927,"color":"#000000"},{"offset":0.4087,"color":"#000000"},{"offset":0.4087,"color":"#ffffff"},{"offset":0.5403,"color":"#ffffff"},{"offset":0.5403,"color":"#000000"},{"offset":0.5563,"color":"#000000"},{"offset":0.5563,"color":"#ffffff"},{"offset":0.6879,"color":"#ffffff"},{"offset":0.6879,"color":"#000000"},{"offset":0.7039,"color":"#000000"},{"offset":0.7039,"color":"#ffffff"},{"offset":0.8355,"color":"#ffffff"},{"offset":0.8355,"color":"#000000"},{"offset":0.8515,"color":"#000000"},{"offset":0.8515,"color":"#ffffff"},{"offset":1,"color":"#ffffff"}]}},
"encoding":{"stroke":{"field":"ring","type":"nominal","scale":{"domain":["In Homo sapiens"],"range":["#1F3864"]},
"legend":{"legendX":1137.5,"legendY":237}}}}
]
}
]
}
